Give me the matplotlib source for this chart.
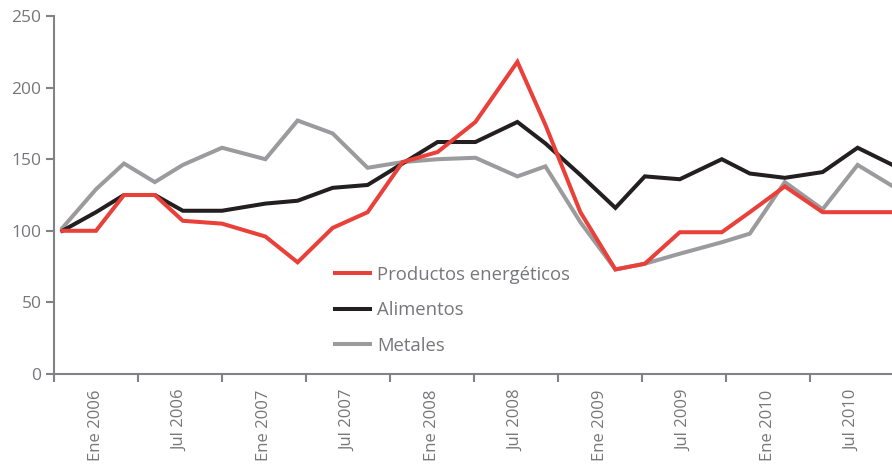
import matplotlib
matplotlib.use("Agg")
import matplotlib.pyplot as plt
from matplotlib.ticker import FixedLocator

# ---------------------------------------------------------------------------
# Data (x in months since Jan 2006, values are index 100 = start)
# ---------------------------------------------------------------------------
x_months = [0.6, 3.0, 5.0, 7.2, 9.2, 12.0, 15.1, 17.4, 19.9, 22.4, 24.9, 27.4,
            30.1, 33.1, 35.1, 37.6, 40.1, 42.2, 44.7, 47.7, 49.7, 52.2, 54.9,
            57.4, 60.1]

energeticos = [100, 100, 125, 125, 107, 105, 96, 78, 102, 113, 148, 155,
               176, 218, 174, 113, 73, 77, 99, 99, 113, 131, 113, 113, 113]
alimentos = [100, 113, 125, 125, 114, 114, 119, 121, 130, 132, 147, 162,
             162, 176, 161, 139, 116, 138, 136, 150, 140, 137, 141, 158, 145]
metales = [102, 129, 147, 134, 146, 158, 150, 177, 168, 144, 148, 150,
           151, 138, 145, 106, 73, 77, 84, 92, 98, 134, 115, 146, 130]

period_labels = ["Ene 2006", "Jul 2006", "Ene 2007", "Jul 2007", "Ene 2008",
                 "Jul 2008", "Ene 2009", "Jul 2009", "Ene 2010", "Jul 2010"]
y_ticks = [0, 50, 100, 150, 200, 250]

# ---------------------------------------------------------------------------
# Style
# ---------------------------------------------------------------------------
RED = "#E9403A"
BLACK = "#231F20"
GREY = "#9B9B9D"
AXIS = "#808285"
TEXT = "#76777A"

plt.rcParams["font.family"] = ["Open Sans", "DejaVu Sans"]

fig = plt.figure(figsize=(8.92, 4.69), dpi=100)
ax = fig.add_axes([54 / 892, 95 / 469, 1 - 54 / 892, (374 - 16) / 469])

lw = 2.9
ax.plot(x_months, energeticos, color=RED, lw=lw, label="Productos energéticos",
        solid_joinstyle="miter", zorder=4)
ax.plot(x_months, alimentos, color=BLACK, lw=lw, label="Alimentos",
        solid_joinstyle="miter", zorder=3)
ax.plot(x_months, metales, color=GREY, lw=lw, label="Metales",
        solid_joinstyle="miter", zorder=2)

ax.set_xlim(0, (892 - 54) / 14)
ax.set_ylim(0, 250)

# spines
for side in ("top", "right"):
    ax.spines[side].set_visible(False)
for side in ("left", "bottom"):
    ax.spines[side].set_color(AXIS)
    ax.spines[side].set_linewidth(1.5)

# y axis
ax.set_yticks(y_ticks)
ax.tick_params(axis="y", direction="out", length=6, width=1.5, color=AXIS,
               labelcolor=TEXT, labelsize=12.5, pad=3)

# x axis: boundary ticks every 6 months, labels centred between them
ax.xaxis.set_major_locator(FixedLocator([6 * i for i in range(11)]))
ax.xaxis.set_minor_locator(FixedLocator([6 * i + 3 for i in range(len(period_labels))]))
ax.set_xticklabels([], minor=False)
ax.set_xticklabels(period_labels, minor=True, rotation=90)
ax.tick_params(axis="x", which="major", direction="out", length=6, width=1.5,
               color=AXIS)
ax.tick_params(axis="x", which="minor", length=0, labelcolor=TEXT,
               labelsize=12, pad=11)

ax.legend(loc="upper left", bbox_to_anchor=(0.335, 0.302), frameon=False,
          fontsize=13.3, labelcolor=TEXT, handlelength=1.9, handletextpad=0.4,
          labelspacing=0.94, borderpad=0, borderaxespad=0)

fig.savefig("out.png", dpi=100)
